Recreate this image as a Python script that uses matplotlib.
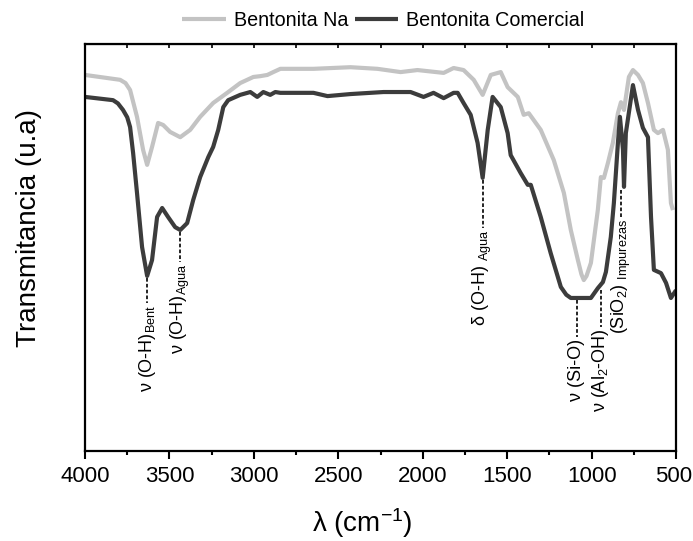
import matplotlib
matplotlib.use("Agg")
import matplotlib.pyplot as plt
import numpy as np

plt.rcParams['font.family'] = ['Liberation Sans', 'DejaVu Sans']
plt.rcParams['mathtext.fontset'] = 'custom'
plt.rcParams['mathtext.rm'] = 'Liberation Sans'
plt.rcParams['mathtext.it'] = 'Liberation Sans:italic'
plt.rcParams['mathtext.bf'] = 'Liberation Sans:bold'

# ---- data (wavenumber cm-1, transmittance a.u.) ----
comercial_wn = [4000, 3834, 3805, 3775, 3750, 3733, 3715, 3692, 3662, 3632, 3603, 3573, 3543, 3508,
                3466, 3436, 3395, 3359, 3318, 3270, 3241, 3211, 3181, 3152, 3081, 3021,
                2980, 2944, 2903, 2873, 2843, 2647, 2564, 2428, 2232, 2072, 1995, 1936,
                1876, 1817, 1793, 1758, 1716, 1675, 1645, 1615, 1586, 1538, 1497, 1479,
                1420, 1378, 1360, 1301, 1242, 1182, 1150, 1123, 1004, 963, 933, 915, 886, 868,
                844, 832, 814, 808, 797, 755, 725, 696, 666, 648, 631, 589, 559, 530, 500]
comercial_t = [87.0, 86.2, 85.4, 83.8, 82.0, 79.6, 73.2, 63.4, 50.1, 43.0, 46.9, 57.5, 59.7, 57.5,
               55.0, 54.3, 56.0, 61.7, 67.3, 72.2, 74.7, 78.9, 84.5, 86.2, 87.5, 88.2,
               87.0, 88.2, 87.5, 88.2, 88.0, 88.0, 87.2, 87.7, 88.2, 88.2, 87.0, 88.0,
               86.7, 88.0, 88.0, 85.5, 82.6, 75.7, 67.1, 78.9, 87.0, 84.5, 78.1, 72.7,
               68.3, 65.4, 65.4, 57.5, 48.6, 40.3, 38.4, 37.6, 37.6, 40.0, 41.5, 44.0, 52.6, 60.9,
               75.7, 82.1, 74.0, 64.9, 78.1, 89.9, 83.8, 79.4, 77.1, 57.5, 44.5, 43.7, 41.3, 37.6, 39.5]

na_wn = [4000, 3792, 3760, 3733, 3692, 3656, 3632, 3603, 3567, 3537, 3496, 3436, 3377, 3318,
         3241, 3158, 3081, 3003, 2962, 2920, 2885, 2843, 2647, 2428, 2268, 2131, 2031,
         1876, 1817, 1758, 1698, 1645, 1597, 1538, 1497, 1437, 1402, 1372, 1301, 1224,
         1164, 1123, 1081, 1060, 1046, 1030, 1004, 963, 945, 927, 903, 874, 844, 826, 808, 779, 755,
         725, 696, 666, 631, 607, 577, 548, 530, 518]
na_t = [92.4, 91.2, 90.4, 88.7, 82.1, 74.0, 70.3, 74.7, 80.6, 80.1, 78.4, 77.1, 78.9, 82.1,
        85.5, 88.0, 90.4, 91.9, 92.1, 92.4, 93.1, 93.9, 93.9, 94.3, 93.9, 93.1, 93.6,
        92.9, 94.1, 93.6, 91.2, 87.5, 92.4, 93.1, 89.4, 87.0, 82.6, 83.0, 78.9, 71.5,
        63.4, 54.3, 46.9, 43.4, 42.0, 43.0, 46.2, 59.2, 67.3, 67.1, 70.8, 75.7, 83.0, 85.7, 83.8, 91.9, 93.6,
        92.4, 90.4, 85.5, 78.9, 78.1, 78.9, 74.0, 60.9, 59.2]

# x tick values and labels
xtick_vals = [4000, 3500, 3000, 2500, 2000, 1500, 1000, 500]
xtick_labels = ["4000", "3500", "3000", "2500", "2000", "1500", "1000", "500"]

# band annotations: position, line start (curve), line end, label
band_wn = [3632, 3436, 1645, 1088, 945, 826]
band_t_start = [42.5, 53.8, 66.6, 37.1, 39.6, 64.1]
band_t_end = [36.4, 46.4, 54.8, 28.0, 30.5, 57.5]
band_labels = [r"ν (O-H)$_{\mathrm{Bent}}$",
               r"ν (O-H)$_{\mathrm{Agua}}$",
               r"δ (O-H) $_{\mathrm{Agua}}$",
               r"ν (Si-O)",
               r"ν (Al$_{\mathrm{2}}$-OH)",
               r"(SiO$_{\mathrm{2}}$) $_{\mathrm{Impurezas}}$"]

fig = plt.figure(figsize=(6.93, 5.41), dpi=100)
ax = fig.add_axes([85/693, 1-451/541, (676-85)/693, (451-44)/541])

ax.plot(na_wn, na_t, color='#c3c3c3', lw=3.0, label='Bentonita Na',
        solid_joinstyle='round', solid_capstyle='butt')
ax.plot(comercial_wn, comercial_t, color='#3c3c3c', lw=3.0, label='Bentonita Comercial',
        solid_joinstyle='round', solid_capstyle='butt')

for wn, t0, t1, lab in zip(band_wn, band_t_start, band_t_end, band_labels):
    ax.plot([wn, wn], [t0, t1], color='black', lw=1.2, ls=(0, (2.2, 1.3)))
    ax.text(wn, t1 - 0.4, lab, rotation=90, ha='center', va='top', fontsize=13)

ax.set_xlim(4000, 500)
ax.set_ylim(0, 100)
ax.set_xticks(xtick_vals)
# the last label ("500") sits at the right edge; draw it right-aligned so it stays on the canvas
ax.set_xticklabels(xtick_labels[:-1] + [""])
ax.annotate(xtick_labels[-1], xy=(xtick_vals[-1], 0), xycoords=('data', 'axes fraction'),
            xytext=(16, -25), textcoords='offset pixels', ha='right', va='center', fontsize=16)
ax.set_xticks(np.arange(750, 4000, 500), minor=True)
ax.tick_params(axis='x', which='major', direction='out', length=5.8, width=1.5, labelsize=16, pad=5)
ax.tick_params(axis='x', which='minor', direction='out', length=3, width=1.5)
ax.set_yticks([])
for s in ax.spines.values():
    s.set_linewidth(1.6)

top = ax.secondary_xaxis('top')
top.set_xticks(np.arange(750, 4000, 250))
top.tick_params(direction='in', length=3, width=1.2, labeltop=False)
top.set_xticklabels([])

ax.set_xlabel(r"λ (cm$^{\mathrm{-1}}$)", fontsize=20)
ax.xaxis.set_label_coords(0.47, -0.135)
ax.set_ylabel("Transmitancia (u.a)", fontsize=20)
ax.yaxis.set_label_coords(-0.072, 0.548)

ax.legend(loc='lower center', bbox_to_anchor=(0.505, 1.0), ncol=2, frameon=False,
          fontsize=14.2, handlelength=2.2, handletextpad=0.4, columnspacing=0.35,
          borderaxespad=0.3)

fig.savefig('out.png', dpi=100)
